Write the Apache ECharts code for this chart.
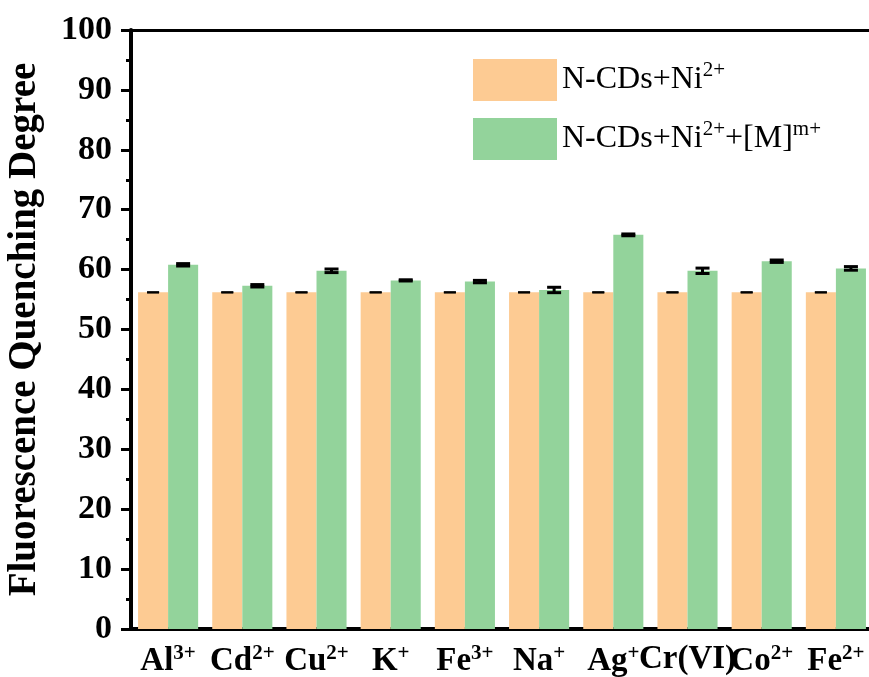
<!DOCTYPE html>
<html>
<head>
<meta charset="utf-8">
<script src="https://cdn.jsdelivr.net/npm/echarts@6/dist/echarts.min.js"></script>
<style>
html,body{margin:0;padding:0;background:#fff;}
#c{width:869px;height:677px;}
</style>
</head>
<body>
<div id="c"></div>
<script>
// ---- data ----
const categories = ['Al3+', 'Cd2+', 'Cu2+', 'K+', 'Fe3+', 'Na+', 'Ag+', 'Cr(VI)', 'Co2+', 'Fe2+'];
const catRich = ['Al{s|3+}', 'Cd{s|2+}', 'Cu{s|2+}', 'K{s|+}', 'Fe{s|3+}', 'Na{s|+}', 'Ag{s|+}', 'Cr(VI)', 'Co{s|2+}', 'Fe{s|2+}'];
const seriesNames = ['N-CDs+Ni2+', 'N-CDs+Ni2+ +[M]m+'];
const legendRich = ['{t|N-CDs+Ni}{s|2+}', '{t|N-CDs+Ni}{s|2+}{t|+[M]}{s|m+}'];
const niValues = [56.2, 56.2, 56.2, 56.2, 56.2, 56.2, 56.2, 56.2, 56.2, 56.2];
const niErrors = [0, 0, 0, 0, 0, 0, 0, 0, 0, 0];
const mValues = [60.8, 57.3, 59.8, 58.2, 58.0, 56.6, 65.8, 59.8, 61.4, 60.2];
const mErrors = [0.2, 0.2, 0.3, 0.1, 0.2, 0.45, 0.15, 0.45, 0.2, 0.3];
const yTicks = [0, 10, 20, 30, 40, 50, 60, 70, 80, 90, 100];

const gapRatio = 0.19;
const errData = [];
niValues.forEach((v, i) => errData.push([i, v, niErrors[i], 0]));
mValues.forEach((v, i) => errData.push([i, v, mErrors[i], 1]));

const chart = echarts.init(document.getElementById('c'));
const FONT = 'Liberation Serif';

chart.setOption({
  backgroundColor: '#ffffff',
  animation: false,
  textStyle: { fontFamily: FONT },
  grid: { left: 131, right: -4, top: 30, bottom: 48, outerBoundsMode: 'none', containLabel: false },
  legend: {
    left: 473, top: 59, orient: 'vertical', padding: 0,
    itemWidth: 84, itemHeight: 42, itemGap: 17,
    icon: 'rect',
    data: seriesNames,
    formatter: function (name) { return legendRich[seriesNames.indexOf(name)]; },
    textStyle: {
      fontFamily: FONT, fontSize: 32, color: '#000', padding: [0, 0, 0, 0],
      rich: {
        t: { fontFamily: FONT, fontSize: 32, color: '#000', lineHeight: 40 },
        s: { fontFamily: FONT, fontSize: 21, color: '#000', verticalAlign: 'top', lineHeight: 21, padding: [0, 0, 13, 0] }
      }
    }
  },
  xAxis: [{
    type: 'category',
    data: categories,
    axisLine: { show: true, lineStyle: { color: '#000', width: 4 } },
    axisTick: { show: false },
    axisLabel: {
      interval: 0, margin: 14,
      formatter: function (v, i) { return catRich[i]; },
      fontFamily: FONT, fontWeight: 'bold', fontSize: 33, color: '#000',
      rich: {
        s: { fontFamily: FONT, fontWeight: 'bold', fontSize: 21, color: '#000', verticalAlign: 'top', padding: [0, 0, 16, 0] }
      }
    },
    splitLine: { show: false }
  }, {
    type: 'category',
    position: 'top',
    data: categories,
    axisLine: { show: true, onZero: false, lineStyle: { color: '#000', width: 3 } },
    axisTick: { show: false },
    axisLabel: { show: false },
    splitLine: { show: false }
  }],
  yAxis: {
    type: 'value',
    min: 0, max: 100, interval: 10,
    name: 'Fluorescence Quenching Degree',
    nameLocation: 'middle',
    nameGap: 87,
    nameTextStyle: { fontFamily: FONT, fontWeight: 'bold', fontSize: 39, color: '#000' },
    axisLine: { show: true, lineStyle: { color: '#000', width: 4 } },
    axisTick: { show: true, length: 10, lineStyle: { color: '#000', width: 3 } },
    minorTick: { show: true, splitNumber: 2, length: 5, lineStyle: { color: '#000', width: 3 } },
    axisLabel: {
      margin: 19, fontFamily: FONT, fontWeight: 'bold', fontSize: 34, color: '#000',
      formatter: function (v) { return yTicks.indexOf(v) >= 0 ? String(v) : ''; }
    },
    splitLine: { show: false }
  },
  series: [{
    name: seriesNames[0],
    type: 'bar',
    data: niValues,
    barGap: '0%',
    barCategoryGap: (gapRatio * 100) + '%',
    itemStyle: { color: '#FDCB93' }
  }, {
    name: seriesNames[1],
    type: 'bar',
    data: mValues,
    barGap: '0%',
    barCategoryGap: (gapRatio * 100) + '%',
    itemStyle: { color: '#93D39B' }
  }, {
    type: 'custom',
    z: 10,
    data: errData,
    renderItem: function (params, api) {
      const idx = api.value(0), val = api.value(1), err = api.value(2), side = api.value(3);
      const cw = api.size([1, 0])[0];
      const bw = cw * (1 - gapRatio) / 2;
      const c = api.coord([idx, val]);
      const x = c[0] + (side ? bw / 2 : -bw / 2);
      const yT = api.coord([idx, val + err])[1];
      const yB = api.coord([idx, val - err])[1];
      const hw = side ? 7 : 6;
      const lw = side ? 3 : 2;
      const st = { stroke: '#000', lineWidth: lw };
      return {
        type: 'group',
        children: [
          { type: 'line', shape: { x1: x, y1: yT, x2: x, y2: yB }, style: st },
          { type: 'line', shape: { x1: x - hw, y1: yT, x2: x + hw, y2: yT }, style: st },
          { type: 'line', shape: { x1: x - hw, y1: yB, x2: x + hw, y2: yB }, style: st }
        ]
      };
    }
  }]
});
</script>
</body>
</html>
